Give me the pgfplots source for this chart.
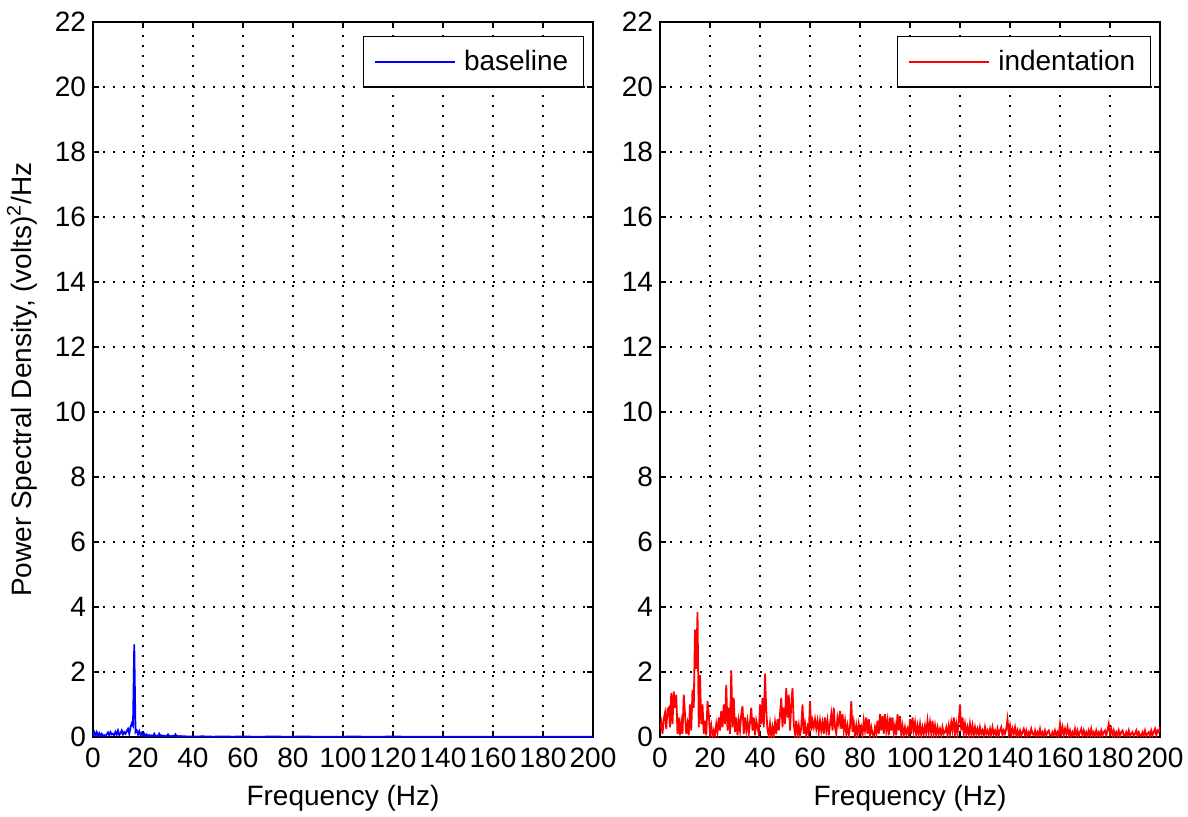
\documentclass[border=0pt]{standalone}
\usepackage{pgfplots}
\pgfplotsset{compat=1.18}
\usepackage{fontspec}
\setmainfont{Liberation Sans}
\definecolor{mblue}{RGB}{0,0,255}
\definecolor{mred}{RGB}{255,0,0}
\pgfplotsset{
  psd/.style={
    scale only axis, width=250pt, height=357.5pt,
    xmin=0, xmax=200, ymin=0, ymax=22,
    xtick={0,20,...,200}, ytick={0,2,...,22},
    font=\fontsize{14}{17}\selectfont,
    tick label style={font=\fontsize{14}{17}\selectfont},
    /pgf/number format/assume math mode=true,
    tick align=inside, major tick length=3pt,
    xtick pos=both, ytick pos=both,
    axis line style={line width=0.9pt},
    every tick/.style={black, line width=0.7pt},
    grid=major,
    grid style={black, line width=0.9pt, dash pattern=on 0.9pt off 4.1pt},
    xlabel={Frequency (Hz)},
    xlabel style={at={(axis description cs:0.5,-0.0853)}, anchor=center},
    xticklabel style={yshift=-2pt},
    legend cell align=left,
    legend image code/.code={\draw[#1] (0pt,0pt) -- (40pt,0pt); \path (42pt,0pt);},
    legend style={at={(rel axis cs:1,1)}, anchor=north east, xshift=-4.5pt, yshift=-7pt,
      draw=black, line width=0.7pt, fill=white, inner xsep=5.5pt, inner ysep=4.8pt,
      font=\fontsize{14}{17}\selectfont},
  }
}
\begin{document}
\begin{tikzpicture}
\useasboundingbox (0,0) rectangle (594pt,408pt);
\begin{axis}[psd, at={(46.5pt,39.5pt)}, anchor=south west,
  ylabel={Power Spectral Density, (volts)\textsuperscript{2}/Hz},
  ylabel style={at={(axis description cs:-0.142,0.5)}, anchor=center}]
\addplot[mblue, line width=0.9pt] coordinates {
(0,0.02)(0.5,0.15)(1,0.05)(1.5,0.15)(2,0.03)(2.5,0.12)(3,0.05)(3.5,0.1)(4,0.02)(4.5,0.06)
(5,0.03)(5.5,0.08)(6,0.14)(6.5,0.05)(7,0.15)(7.5,0.08)(8,0.1)(8.5,0.05)(9,0.16)(9.5,0.08)
(10,0.2)(10.5,0.06)(11,0.12)(11.5,0.2)(12,0.08)(12.5,0.15)(13,0.1)(13.5,0.18)(14,0.25)(14.5,0.1)
(15,0.3)(15.5,0.42)(16,0.35)(16.5,2.85)(17,0.15)(17.5,0.2)(18,0.08)(18.5,0.18)(19,0.05)(19.5,0.12)
(20,0.04)(20.5,0.1)(21,0.03)(21.5,0.08)(22,0.02)(22.5,0.06)(23,0.03)(23.5,0.05)(24,0.02)(24.5,0.1)
(25,0.03)(25.5,0.04)(26,0.02)(26.5,0.1)(27,0.03)(27.5,0.05)(28,0.02)(28.5,0.04)(29,0.02)(29.5,0.03)
(30,0.08)(30.5,0.02)(31,0.03)(31.5,0.02)(32,0.04)(32.5,0.02)(33,0.08)(33.5,0.02)(34,0.03)(34.5,0.02)
(35,0.03)(35.5,0.02)(36,0.02)(40,0.015)(44,0.02)(48,0.01)(52,0.015)(56,0.01)(60,0.015)(64,0.01)
(68,0.01)(72,0.015)(76,0.01)(80,0.01)(84,0.015)(88,0.01)(92,0.01)(96,0.01)(100,0.01)(104,0.015)
(108,0.01)(112,0.01)(116,0.01)(120,0.015)(124,0.01)(128,0.01)(132,0.01)(136,0.01)(140,0.01)(144,0.01)
(148,0.01)(152,0.01)(156,0.01)(160,0.01)(164,0.01)(168,0.01)(172,0.01)(176,0.01)(180,0.01)(184,0.01)
(188,0.01)(192,0.01)(196,0.01)(200,0.01)
};
\addlegendentry{baseline}
\end{axis}
\begin{axis}[psd, at={(330pt,39.5pt)}, anchor=south west]
\addplot[mred, line width=0.9pt] coordinates {
(0,0.25)(0.5,0.45)(1,0.1)(1.5,0.55)(2,0.75)(2.5,0.25)(3,0.85)(3.5,0.9)(4,0.3)(4.5,1.35)
(5,0.4)(5.5,1.4)(6,0.9)(6.5,1.3)(7,0.1)(7.5,0.6)(8,0.05)(8.5,0.45)(9,0.1)(9.5,1.3)
(10,0.7)(10.5,0.1)(11,0.4)(11.5,0.05)(12,1.0)(12.5,0.2)(13,1.45)(13.5,0.9)(14,3.3)(14.5,2.1)
(15,3.85)(15.5,0.3)(16,1.9)(16.5,0.4)(17,1.0)(17.5,0.1)(18,0.5)(18.5,0.05)(19,1.1)(19.5,0.7)
(20,0.1)(20.5,0.35)(21,0.02)(21.5,0.2)(22,0.05)(22.5,0.4)(23,0.15)(23.5,0.6)(24,0.2)(24.5,0.8)
(25,0.3)(25.5,1.0)(26,0.4)(26.5,1.6)(27,0.2)(27.5,0.9)(28,0.1)(28.5,2.05)(29,0.3)(29.5,1.2)
(30,0.15)(30.5,0.6)(31,0.05)(31.5,0.5)(32,0.2)(32.5,0.7)(33,0.95)(33.5,0.1)(34,0.6)(34.5,0.2)
(35,0.5)(35.5,0.1)(36,0.45)(36.5,0.9)(37,0.2)(37.5,0.6)(38,0.05)(38.5,0.5)(39,0.3)(39.5,0.1)
(40,1.0)(40.5,0.4)(41,1.2)(41.5,0.3)(42,1.95)(42.5,0.8)(43,0.2)(43.5,0.05)(44,0.4)(44.5,0.02)
(45,0.3)(45.5,0.05)(46,0.45)(46.5,0.1)(47,0.55)(47.5,0.2)(48,0.7)(48.5,1.2)(49,0.3)(49.5,0.9)
(50,0.4)(50.5,1.5)(51,0.6)(51.5,1.3)(52,0.2)(52.5,1.0)(53,1.5)(53.5,0.4)(54,0.1)(54.5,0.5)
(55,0.05)(55.5,0.35)(56,0.03)(56.5,0.3)(57,1.0)(57.5,0.1)(58,0.4)(58.5,0.05)(59,0.3)(59.5,0.1)
(60,1.1)(60.5,0.2)(61,0.5)(61.5,0.3)(62,0.55)(62.5,0.25)(63,0.5)(63.5,0.15)(64,0.5)(64.5,0.2)
(65,0.45)(65.5,0.1)(66,0.6)(66.5,0.2)(67,0.5)(67.5,0.05)(68,0.4)(68.5,0.7)(69,0.2)(69.5,0.9)
(70,0.3)(70.5,0.1)(71,0.6)(71.5,0.4)(72,0.8)(72.5,0.25)(73,0.7)(73.5,0.2)(74,0.5)(74.5,0.1)
(75,0.35)(75.5,0.05)(76,0.3)(76.5,1.1)(77,0.15)(77.5,0.45)(78,0.05)(78.5,0.35)(79,0.05)(79.5,0.4)
(80,0.15)(80.5,0.3)(81,0.05)(81.5,0.5)(82,0.2)(82.5,0.6)(83,0.1)(83.5,0.55)(84,0.05)(84.5,0.3)
(85,0.1)(85.5,0.02)(86,0.3)(86.5,0.1)(87,0.5)(87.5,0.1)(88,0.7)(88.5,0.2)(89,0.65)(89.5,0.1)
(90,0.7)(90.5,0.2)(91,0.5)(91.5,0.05)(92,0.6)(92.5,0.2)(93,0.6)(93.5,0.1)(94,0.35)(94.5,0.05)
(95,0.7)(95.5,0.2)(96,0.65)(96.5,0.1)(97,0.35)(97.5,0.05)(98,0.3)(98.5,0.1)(99,0.25)(99.5,0.05)
(100,0.55)(100.5,0.1)(101,0.6)(101.5,0.2)(102,0.45)(102.5,0.05)(103,0.35)(103.5,0.1)(104,0.4)(104.5,0.05)
(105,0.3)(105.5,0.1)(106,0.35)(106.5,0.1)(107,0.5)(107.5,0.15)(108,0.45)(108.5,0.1)(109,0.5)(109.5,0.1)
(110,0.35)(110.5,0.05)(111,0.3)(111.5,0.1)(112,0.25)(112.5,0.05)(113,0.3)(113.5,0.1)(114,0.15)(114.5,0.3)
(115,0.05)(115.5,0.35)(116,0.1)(116.5,0.45)(117,0.2)(117.5,0.6)(118,0.1)(118.5,0.4)(119,0.1)(119.5,0.5)
(120,1.0)(120.5,0.2)(121,0.6)(121.5,0.1)(122,0.4)(122.5,0.1)(123,0.3)(123.5,0.05)(124,0.4)(124.5,0.1)
(125,0.35)(125.5,0.05)(126,0.3)(126.5,0.1)(127,0.25)(127.5,0.05)(128,0.3)(128.5,0.1)(129,0.2)(129.5,0.03)
(130,0.3)(130.5,0.1)(131,0.2)(131.5,0.05)(132,0.25)(132.5,0.05)(133,0.3)(133.5,0.1)(134,0.2)(134.5,0.03)
(135,0.25)(135.5,0.05)(136,0.2)(136.5,0.3)(137,0.05)(137.5,0.2)(138,0.1)(138.5,0.25)(139,0.55)(139.5,0.1)
(140,0.35)(140.5,0.05)(141,0.25)(141.5,0.1)(142,0.3)(142.5,0.05)(143,0.2)(143.5,0.03)(144,0.2)(144.5,0.05)
(145,0.15)(145.5,0.25)(146,0.05)(146.5,0.2)(147,0.03)(147.5,0.15)(148,0.05)(148.5,0.25)(149,0.1)(149.5,0.05)
(150,0.2)(150.5,0.03)(151,0.15)(151.5,0.05)(152,0.25)(152.5,0.05)(153,0.15)(153.5,0.03)(154,0.2)(154.5,0.05)
(155,0.15)(155.5,0.2)(156,0.05)(156.5,0.03)(157,0.15)(157.5,0.05)(158,0.2)(158.5,0.05)(159,0.15)(159.5,0.03)
(160,0.4)(160.5,0.1)(161,0.3)(161.5,0.05)(162,0.25)(162.5,0.1)(163,0.3)(163.5,0.05)(164,0.2)(164.5,0.03)
(165,0.15)(165.5,0.05)(166,0.25)(166.5,0.05)(167,0.2)(167.5,0.03)(168,0.15)(168.5,0.25)(169,0.05)(169.5,0.2)
(170,0.05)(170.5,0.15)(171,0.03)(171.5,0.2)(172,0.05)(172.5,0.25)(173,0.05)(173.5,0.15)(174,0.03)(174.5,0.2)
(175,0.05)(175.5,0.15)(176,0.03)(176.5,0.2)(177,0.05)(177.5,0.15)(178,0.2)(178.5,0.05)(179,0.2)(179.5,0.4)
(180,0.1)(180.5,0.25)(181,0.05)(181.5,0.2)(182,0.03)(182.5,0.15)(183,0.05)(183.5,0.2)(184,0.03)(184.5,0.15)
(185,0.2)(185.5,0.05)(186,0.03)(186.5,0.15)(187,0.05)(187.5,0.2)(188,0.03)(188.5,0.1)(189,0.15)(189.5,0.03)
(190,0.1)(190.5,0.2)(191,0.03)(191.5,0.15)(192,0.05)(192.5,0.03)(193,0.15)(193.5,0.05)(194,0.2)(194.5,0.03)
(195,0.1)(195.5,0.15)(196,0.03)(196.5,0.2)(197,0.05)(197.5,0.15)(198,0.25)(198.5,0.05)(199,0.2)(199.5,0.15)
(200,0.3)
};
\addlegendentry{indentation}
\end{axis}
\end{tikzpicture}
\end{document}
